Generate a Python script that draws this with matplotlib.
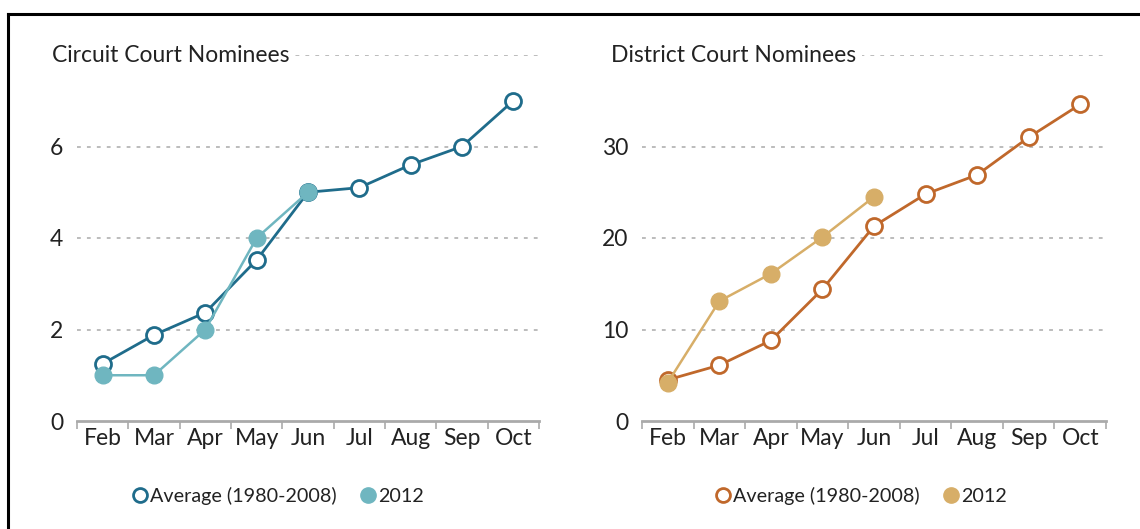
import numpy as np
import matplotlib.pyplot as plt
from matplotlib.lines import Line2D

plt.rcParams['font.family'] = ['Lato', 'DejaVu Sans']

# Datos
months = ["Feb", "Mar", "Apr", "May", "Jun", "Jul", "Aug", "Sep", "Oct"]

circuit_avg = [1.25, 1.88, 2.37, 3.52, 5.0, 5.1, 5.6, 6.0, 7.0]
circuit_2012 = [1, 1, 2, 4, 5]

district_avg = [4.5, 6.1, 8.8, 14.4, 21.3, 24.8, 26.9, 31.0, 34.6]
district_2012 = [4.2, 13.1, 16.1, 20.1, 24.5]

circuit_ticks = [0, 2, 4, 6]
district_ticks = [0, 10, 20, 30]

# Colores
teal_dark = "#1f6c8b"
teal_light = "#6fb6c0"
orange_dark = "#c0682b"
orange_light = "#d7ae68"
text_col = "#222222"
grid_col = "#aaaaaa"
fs = 16.5
fs_leg = 14.2

fig = plt.figure(figsize=(11.4, 5.29), dpi=100)

# marco negro (arriba e izquierda)
fig.add_artist(Line2D([8 / 1140, 1], [1 - 14 / 529, 1 - 14 / 529], transform=fig.transFigure,
                      color="black", lw=2.2))
fig.add_artist(Line2D([8 / 1140, 8 / 1140], [0, 1 - 14 / 529], transform=fig.transFigure,
                      color="black", lw=2.2))


def panel(rect, title, avg, y2012, ticks, ymax, c_avg, c_2012, title_x, leg_x):
    ax = fig.add_axes(rect)
    x = np.arange(len(months))
    ax.set_xlim(-0.5, len(months) - 0.5)
    ax.set_ylim(0, ymax)

    # lineas de la cuadricula punteadas
    for t in ticks[1:] + [ymax]:
        ax.axhline(t, color=grid_col, lw=1.1, ls=(0, (2.5, 4)), zorder=0)

    ax.plot(x, avg, color=c_avg, lw=2.0, marker="o", ms=11.5, mfc="white",
            mec=c_avg, mew=2.0, zorder=3, clip_on=False)
    ax.plot(x[:len(y2012)], y2012, color=c_2012, lw=1.8, marker="o", ms=12,
            mfc=c_2012, mec=c_2012, zorder=4, clip_on=False)

    for s in ["top", "right", "left"]:
        ax.spines[s].set_visible(False)
    ax.spines["bottom"].set_color(grid_col)
    ax.spines["bottom"].set_linewidth(2)

    ax.set_yticks(ticks)
    ax.set_yticklabels([str(t) for t in ticks])
    ax.tick_params(axis="y", length=0, pad=10, labelsize=fs, labelcolor=text_col)

    ax.set_xticks(x)
    ax.set_xticklabels(months)
    ax.set_xticks(np.arange(-0.5, len(months)), minor=True)
    ax.tick_params(axis="x", which="major", length=0, pad=5, labelsize=fs, labelcolor=text_col)
    ax.tick_params(axis="x", which="minor", length=6, width=1.2, color=grid_col)

    # titulo sobre la linea superior
    fig.text(title_x, rect[1] + rect[3], title, fontsize=fs, color=text_col,
             ha="left", va="center",
             bbox=dict(facecolor="white", edgecolor="none", pad=4))

    handles = [
        Line2D([], [], ls="none", marker="o", ms=10, mfc="white", mec=c_avg, mew=2.0),
        Line2D([], [], ls="none", marker="o", ms=11, mfc=c_2012, mec=c_2012),
    ]
    fig.legend(handles, ["Average (1980-2008)", "2012"], loc="center",
               bbox_to_anchor=(leg_x, 33 / 529), ncol=2, frameon=False,
               fontsize=fs_leg, handletextpad=0.0, columnspacing=1.1,
               handlelength=1.0, labelcolor=text_col)
    return ax


panel([77 / 1140, 108 / 529, 462 / 1140, 366 / 529], "Circuit Court Nominees",
      circuit_avg, circuit_2012, circuit_ticks, 8, teal_dark, teal_light,
      52 / 1140, 277 / 1140)
panel([642 / 1140, 108 / 529, 464 / 1140, 366 / 529], "District Court Nominees",
      district_avg, district_2012, district_ticks, 40, orange_dark, orange_light,
      611 / 1140, 860 / 1140)

plt.savefig("out.png", dpi=100)
